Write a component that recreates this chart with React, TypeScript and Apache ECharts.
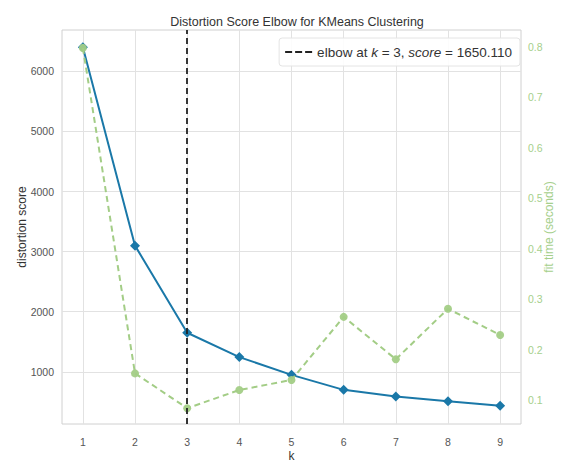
import React, { useEffect, useRef } from "react";
import * as echarts from "echarts";

const kValues = [1, 2, 3, 4, 5, 6, 7, 8, 9];
const distortionScores = [6400, 3100, 1650.11, 1245, 950, 700, 590, 510, 435];
const fitTimes = [0.798, 0.153, 0.084, 0.12, 0.14, 0.265, 0.181, 0.281, 0.229];
const leftTicks = [1000, 2000, 3000, 4000, 5000, 6000];
const rightTicks = [0.1, 0.2, 0.3, 0.4, 0.5, 0.6, 0.7, 0.8];
const elbowK = 3;
const elbowScore = 1650.11;

const FONT = "Liberation Sans, Arial, sans-serif";
const BLUE = "#1a78a8";
const GREEN = "#a3cd86";
const GREEN_TEXT = "#a6cf8c";

export default function App() {
  const ref = useRef<HTMLDivElement>(null);
  useEffect(() => {
    document.body.style.margin = "0";
    if (!ref.current) return;
    const chart = echarts.init(ref.current, undefined, { renderer: "svg" });
    const legendName = "elbow";
    chart.setOption({
      animation: false,
      backgroundColor: "#ffffff",
      textStyle: { fontFamily: FONT },
      title: {
        text: "Distortion Score Elbow for KMeans Clustering",
        left: 292,
        textAlign: "center",
        top: 10,
        textStyle: { fontFamily: FONT, fontSize: 12.5, fontWeight: "normal", color: "#333" },
      },
      legend: {
        data: [
          {
            name: legendName,
            icon: "path://M0,4H7V6H0Z M10,4H17V6H10Z M20,4H27V6H20Z",
          },
        ],
        right: 43,
        top: 38,
        padding: [7, 8, 7, 6],
        itemWidth: 27,
        itemHeight: 6,
        itemGap: 8,
        backgroundColor: "rgba(255,255,255,0.9)",
        borderColor: "#e4e4e4",
        borderWidth: 1,
        borderRadius: 3,
        itemStyle: { color: "#222" },
        formatter: () =>
          "{n|elbow at }{i|k}{n| = " + elbowK + ", }{i|score}{n| = " + elbowScore.toFixed(3) + "}",
        textStyle: {
          fontFamily: FONT,
          rich: {
            n: { fontFamily: FONT, fontSize: 13.5, color: "#333" },
            i: { fontFamily: FONT, fontSize: 13.5, color: "#333", fontStyle: "italic" },
          },
        },
      },
      grid: {
        left: 62,
        right: 40,
        top: 30,
        bottom: 41,
        show: true,
        borderColor: "#d0d0d0",
        borderWidth: 1,
      },
      xAxis: {
        type: "value",
        min: 0.6,
        max: 9.4,
        name: "k",
        nameLocation: "middle",
        nameGap: 26,
        nameMoveOverlap: false,
        nameTextStyle: { fontFamily: FONT, fontSize: 12, color: "#333" },
        axisLine: { show: false },
        axisTick: { show: false, customValues: kValues },
        axisLabel: { customValues: kValues, color: "#555", fontSize: 10.5, margin: 12, fontFamily: FONT },
        splitLine: { show: true, lineStyle: { color: "#e2e2e2", width: 1 } },
      },
      yAxis: [
        {
          type: "value",
          min: 132,
          max: 6688,
          name: "distortion score",
          nameLocation: "middle",
          nameRotate: 90,
          nameGap: 34,
          nameMoveOverlap: false,
          nameTextStyle: { fontFamily: FONT, fontSize: 12, color: "#333" },
          axisLine: { show: false },
          axisTick: { show: false, customValues: leftTicks },
          axisLabel: {
            customValues: leftTicks,
            color: "#555",
            fontSize: 10.5,
            margin: 8,
            fontFamily: FONT,
            formatter: (v: number) => String(v),
          },
          splitLine: { show: true, lineStyle: { color: "#e2e2e2", width: 1 } },
        },
        {
          type: "value",
          position: "right",
          min: 0.0527,
          max: 0.8335,
          name: "fit time (seconds)",
          nameLocation: "middle",
          nameRotate: 90,
          nameGap: 22,
          nameMoveOverlap: false,
          nameTextStyle: { fontFamily: FONT, fontSize: 12, color: GREEN_TEXT },
          axisLine: { show: false },
          axisTick: { show: false, customValues: rightTicks },
          axisLabel: {
            customValues: rightTicks,
            color: GREEN_TEXT,
            fontSize: 10.5,
            margin: 7,
            fontFamily: FONT,
            formatter: (v: number) => v.toFixed(1),
          },
          splitLine: { show: false },
        },
      ],
      series: [
        {
          name: "distortion",
          type: "line",
          yAxisIndex: 0,
          data: kValues.map((k, i) => [k, distortionScores[i]]),
          symbol: "diamond",
          symbolSize: 10,
          color: BLUE,
          lineStyle: { color: BLUE, width: 2 },
          itemStyle: { color: BLUE },
          z: 3,
          markLine: {
            silent: true,
            symbol: "none",
            label: { show: false },
            lineStyle: { color: "#222", type: [6, 4], width: 1.8 },
            data: [{ xAxis: elbowK }],
          },
        },
        {
          name: "fit time",
          type: "line",
          yAxisIndex: 1,
          data: kValues.map((k, i) => [k, fitTimes[i]]),
          symbol: "circle",
          symbolSize: 8,
          color: GREEN,
          lineStyle: { color: GREEN, width: 2, type: [6, 4] },
          itemStyle: { color: GREEN, opacity: 0.95 },
          z: 4,
        },
        {
          name: legendName,
          type: "line",
          yAxisIndex: 0,
          data: [],
          symbol: "none",
          color: "#222",
          lineStyle: { color: "#222", width: 2, type: [5, 3] },
        },
      ],
    });
    return () => chart.dispose();
  }, []);
  return <div ref={ref} style={{ width: 563, height: 467 }} />;
}
